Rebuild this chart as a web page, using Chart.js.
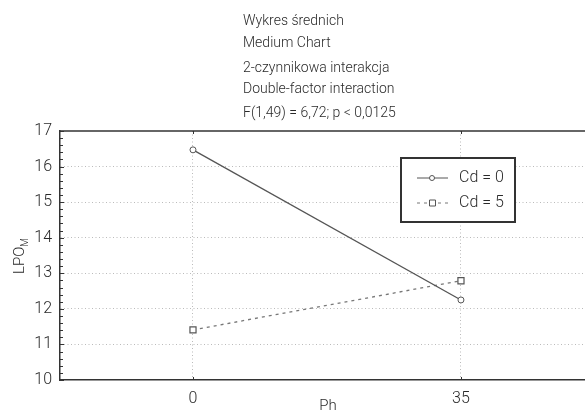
<!DOCTYPE html>
<html>
<head>
<meta charset="utf-8">
<script src="https://cdn.jsdelivr.net/npm/chart.js@4"></script>
<style>
  html, body { margin: 0; padding: 0; background: #fff; }
  #wrap { width: 585px; height: 412px; position: relative; }
</style>
</head>
<body>
<div id="wrap"><canvas id="chart" width="585" height="412"></canvas></div>
<script>
// factor levels and group means
const phLevels = [0, 35];
const cd0Means = [16.47, 12.25];
const cd5Means = [11.41, 12.79];
const seriesLabels = ["Cd = 0", "Cd = 5"];
const yTicks = [10, 11, 12, 13, 14, 15, 16, 17];
const titleLines = [
    "Wykres średnich",
    "Medium Chart",
    "2-czynnikowa interakcja",
    "Double-factor interaction",
    "F(1,49) = 6,72; p < 0,0125"
];

const FONT = "Roboto, 'Liberation Sans', sans-serif";
const INK = "#333";
const TEXT = "#2a2a2a";

function toPoints(vals) {
    return phLevels.map((x, i) => ({ x: x, y: vals[i] }));
}

// titles, frame, inside ticks, axis titles and the boxed legend
const decorations = {
    id: "decorations",
    afterDraw(chart) {
        const ctx = chart.ctx;
        const area = chart.chartArea;
        const xs = chart.scales.x;
        const ys = chart.scales.y;
        ctx.save();

        // title block
        ctx.fillStyle = TEXT;
        ctx.font = "300 14px " + FONT;
        ctx.textAlign = "left";
        ctx.textBaseline = "middle";
        const titleY = [21, 43, 68, 89, 113];
        titleLines.forEach((t, i) => ctx.fillText(t, 243, titleY[i]));

        // top frame line
        ctx.strokeStyle = INK;
        ctx.lineWidth = 1.5;
        ctx.beginPath();
        ctx.moveTo(area.left, area.top);
        ctx.lineTo(area.right, area.top);
        ctx.stroke();

        // tick marks pointing into the plot
        ctx.lineWidth = 1;
        ctx.beginPath();
        for (let v = ys.min; v <= ys.max + 1e-9; v += 0.2) {
            const y = Math.round(ys.getPixelForValue(v)) + 0.5;
            const major = Math.abs(v - Math.round(v)) < 1e-6;
            ctx.moveTo(area.left, y);
            ctx.lineTo(area.left + (major ? 4 : 3), y);
        }
        phLevels.forEach(p => {
            const x = Math.round(xs.getPixelForValue(p)) + 0.5;
            ctx.moveTo(x, area.bottom);
            ctx.lineTo(x, area.bottom - 3);
            ctx.moveTo(x, area.top);
            ctx.lineTo(x, area.top + 3);
        });
        ctx.stroke();

        // x axis title
        ctx.fillStyle = TEXT;
        ctx.font = "300 15px " + FONT;
        ctx.textAlign = "center";
        ctx.fillText("Ph", 328, 406);

        // y axis title with subscript
        ctx.save();
        ctx.translate(20, 256);
        ctx.rotate(-Math.PI / 2);
        ctx.textAlign = "left";
        ctx.font = "300 15px " + FONT;
        const w1 = ctx.measureText("LPO").width;
        ctx.font = "300 10px " + FONT;
        const w2 = ctx.measureText("M").width;
        const start = -(w1 + w2) / 2;
        ctx.font = "300 15px " + FONT;
        ctx.fillText("LPO", start, 0);
        ctx.font = "300 10px " + FONT;
        ctx.fillText("M", start + w1, 5);
        ctx.restore();

        // legend box
        const lx = area.left + 341, ly = area.top + 27, lw = 114, lh = 64;
        ctx.fillStyle = "#fff";
        ctx.fillRect(lx, ly, lw, lh);
        ctx.strokeStyle = INK;
        ctx.lineWidth = 2;
        ctx.strokeRect(lx, ly, lw, lh);

        chart.data.datasets.forEach((ds, i) => {
            const y = ly + 20 + i * 25;
            ctx.strokeStyle = ds.borderColor;
            ctx.lineWidth = 1;
            ctx.setLineDash(ds.borderDash || []);
            ctx.beginPath();
            ctx.moveTo(lx + 16, y);
            ctx.lineTo(lx + 47, y);
            ctx.stroke();
            ctx.setLineDash([]);
            ctx.fillStyle = "#fff";
            ctx.strokeStyle = ds.pointBorderColor;
            ctx.beginPath();
            if (ds.pointStyle === "rect") {
                ctx.rect(lx + 28.5, y - 3, 6, 6);
            } else {
                ctx.arc(lx + 31, y, 2.5, 0, Math.PI * 2);
            }
            ctx.fill();
            ctx.stroke();
            ctx.fillStyle = TEXT;
            ctx.font = "300 16px " + FONT;
            ctx.textAlign = "left";
            ctx.fillText(ds.label, lx + 58, y);
        });

        ctx.restore();
    }
};

const ctx = document.getElementById("chart").getContext("2d");

new Chart(ctx, {
    type: "line",
    data: {
        datasets: [{
            label: seriesLabels[0],
            data: toPoints(cd0Means),
            borderColor: "#555",
            borderWidth: 1.3,
            pointStyle: "circle",
            pointRadius: 3,
            pointBorderWidth: 1,
            pointBorderColor: "#555",
            pointBackgroundColor: "#fff"
        }, {
            label: seriesLabels[1],
            data: toPoints(cd5Means),
            borderColor: "#777",
            borderWidth: 1.3,
            borderDash: [3, 4],
            pointStyle: "rect",
            pointRadius: 4.3,
            pointBorderWidth: 1.2,
            pointBorderColor: "#555",
            pointBackgroundColor: "#fff"
        }]
    },
    options: {
        responsive: false,
        animation: false,
        layout: { autoPadding: false, padding: { top: 131, left: 0, right: 0, bottom: 0 } },
        plugins: {
            legend: { display: false },
            tooltip: { enabled: false }
        },
        scales: {
            x: {
                type: "linear",
                min: -17.37,
                max: 51.2,
                afterBuildTicks: (scale) => { scale.ticks = phLevels.map(v => ({ value: v })); },
                afterFit: (scale) => {
                    scale.height = 32;
                    scale.paddingLeft = 0;
                    scale.paddingRight = 0;
                },
                ticks: {
                    color: TEXT,
                    font: { family: FONT, size: 16, weight: "300" },
                    padding: 9,
                    maxRotation: 0
                },
                grid: { color: "#bbb", lineWidth: 1, drawTicks: false },
                border: { color: INK, width: 1.5, dash: [1, 2.5] }
            },
            y: {
                min: 10,
                max: 17,
                afterBuildTicks: (scale) => { scale.ticks = yTicks.map(v => ({ value: v })); },
                afterFit: (scale) => {
                    scale.width = 60;
                    scale.paddingTop = 0;
                    scale.paddingBottom = 0;
                },
                ticks: {
                    color: TEXT,
                    font: { family: FONT, size: 16, weight: "300" },
                    padding: 8
                },
                grid: {
                    color: (c) => (c.tick && (c.tick.value === 10 || c.tick.value === 17)) ? "rgba(0,0,0,0)" : "#bbb",
                    lineWidth: 1,
                    drawTicks: false
                },
                border: { color: INK, width: 1.5, dash: [1, 2.5] }
            }
        }
    },
    plugins: [decorations]
});
</script>
</body>
</html>
